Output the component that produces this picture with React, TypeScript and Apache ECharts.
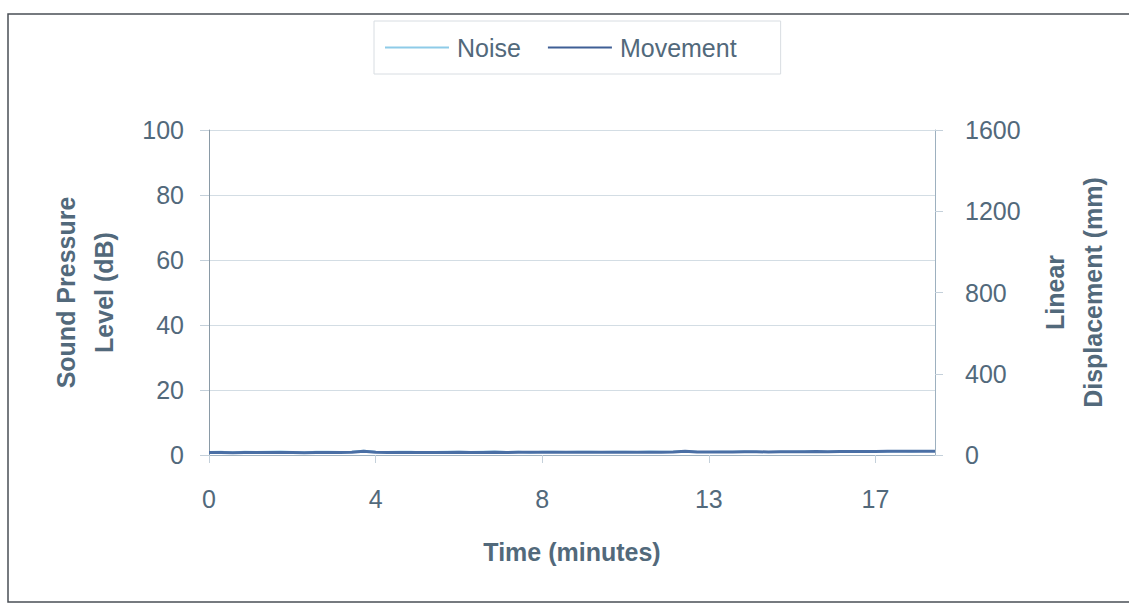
import React, { useEffect, useRef } from "react";
import * as echarts from "echarts";

const seriesNames = ["Noise", "Movement"];
const timeMinutes = [
  0, 0.3, 0.6, 0.9, 1.2, 1.5, 1.8, 2.1, 2.4, 2.7, 3, 3.3, 3.6, 3.9, 4.2, 4.5,
  4.8, 5.1, 5.4, 5.7, 6, 6.3, 6.6, 6.9, 7.2, 7.5, 7.8, 8.1, 8.4, 8.7, 9, 9.3,
  9.6, 9.9, 10.2, 10.5, 10.8, 11.1, 11.4, 11.7, 12, 12.3, 12.6, 12.9, 13.2,
  13.5, 13.8, 14.1, 14.4, 14.7, 15, 15.3, 15.6, 15.9, 16.2, 16.5, 16.8, 17.1,
  17.4, 17.7, 18, 18.3,
];
const noiseDb = [
  0.9, 1.0, 0.8, 1.0, 0.9, 1.0, 1.1, 0.9, 0.8, 1.0, 1.0, 0.9, 1.0, 1.3, 1.0,
  0.9, 1.0, 1.0, 0.8, 0.9, 1.0, 1.0, 0.9, 1.0, 1.1, 0.9, 1.0, 0.8, 1.0, 1.0,
  0.9, 1.0, 1.0, 0.9, 1.0, 1.0, 0.9, 1.1, 1.0, 1.0, 1.2, 1.0, 0.9, 1.0, 1.0,
  1.1, 1.0, 0.9, 1.0, 1.0, 1.1, 1.1, 1.0, 1.1, 1.1, 1.2, 1.1, 1.1, 1.2, 1.1,
  1.2, 1.2,
];
const movementMm = [
  12, 12, 11, 12, 12, 12, 12, 12, 11, 12, 12, 12, 13, 19, 13, 12, 12, 12, 12,
  12, 12, 13, 12, 12, 13, 12, 13, 13, 13, 13, 13, 13, 13, 14, 13, 14, 14, 14,
  14, 15, 18, 15, 15, 15, 15, 16, 16, 15, 16, 16, 16, 17, 16, 17, 17, 17, 17,
  18, 18, 18, 18, 19,
];
const leftTicks = { min: 0, max: 100, interval: 20 };
const rightTicks = { min: 0, max: 1600, interval: 400 };
const timeTicks = { min: 0, max: 18.3, interval: 4.2 };

const FONT = "'Liberation Sans', Arial, sans-serif";
const TEXT = "#52697b";
const AXIS = "#9db0bf";

export default function App() {
  const ref = useRef<HTMLDivElement>(null);
  useEffect(() => {
    if (!ref.current) return;
    const chart = echarts.init(ref.current, null, { renderer: "svg" });
    chart.setOption({
      animation: false,
      backgroundColor: "#ffffff",
      textStyle: { fontFamily: FONT },
      graphic: [
        {
          type: "rect",
          shape: { x: 8, y: 14, width: 1130, height: 588 },
          style: { fill: "none", stroke: "#4a4f55", lineWidth: 1.5 },
          silent: true,
        },
      ],
      legend: {
        data: seriesNames,
        left: 374,
        top: 21,
        padding: [14, 44, 14, 11],
        itemGap: 27,
        itemWidth: 64,
        itemHeight: 2,
        icon: "rect",
        borderColor: "#d8dde2",
        borderWidth: 1,
        textStyle: {
          fontFamily: FONT,
          fontSize: 25,
          color: TEXT,
          padding: [0, 0, 0, 3],
        },
      },
      grid: { left: 209, right: 194, top: 130, bottom: 149, containLabel: false },
      xAxis: {
        type: "value",
        min: timeTicks.min,
        max: timeTicks.max,
        interval: timeTicks.interval,
        name: "Time (minutes)",
        nameLocation: "middle",
        nameGap: 84,
        nameTextStyle: { fontFamily: FONT, fontSize: 25, fontWeight: "bold", color: TEXT },
        axisLine: { show: true, lineStyle: { color: AXIS, width: 1 } },
        axisTick: { show: true, length: 8, lineStyle: { color: "#c4d0da" } },
        axisLabel: {
          margin: 31,
          fontSize: 25,
          color: TEXT,
          fontFamily: FONT,
          showMaxLabel: false,
          formatter: (v: number) => String(Math.round(v)),
        },
        splitLine: { show: false },
      },
      yAxis: [
        {
          type: "value",
          position: "left",
          min: leftTicks.min,
          max: leftTicks.max,
          interval: leftTicks.interval,
          name: "Sound Pressure\nLevel (dB)",
          nameLocation: "middle",
          nameGap: 86,
          nameTextStyle: {
            fontFamily: FONT,
            fontSize: 25,
            fontWeight: "bold",
            color: TEXT,
            lineHeight: 38,
          },
          axisLine: { show: true, lineStyle: { color: "#8a9aa6", width: 1 } },
          axisTick: { show: true, length: 9, lineStyle: { color: "#c4d0da" } },
          axisLabel: {
            margin: 25,
            fontSize: 25,
            color: TEXT,
            fontFamily: FONT,
            formatter: (v: number) => String(v),
          },
          splitLine: { show: true, lineStyle: { color: "#d3dde4", width: 1 } },
        },
        {
          type: "value",
          position: "right",
          min: rightTicks.min,
          max: rightTicks.max,
          interval: rightTicks.interval,
          name: "Linear\nDisplacement (mm)",
          nameLocation: "middle",
          nameGap: 101,
          nameTextStyle: {
            fontFamily: FONT,
            fontSize: 25,
            fontWeight: "bold",
            color: TEXT,
            lineHeight: 38,
          },
          axisLine: { show: true, lineStyle: { color: AXIS, width: 1 } },
          axisTick: { show: true, length: 8, lineStyle: { color: "#c4d0da" } },
          axisLabel: {
            margin: 30,
            fontSize: 25,
            color: TEXT,
            fontFamily: FONT,
            formatter: (v: number) => String(v),
          },
          splitLine: { show: false },
        },
      ],
      series: [
        {
          name: seriesNames[0],
          type: "line",
          yAxisIndex: 0,
          symbol: "none",
          color: "#8ecbe8",
          lineStyle: { width: 2, color: "#8ecbe8" },
          data: timeMinutes.map((t, i) => [t, noiseDb[i]]),
        },
        {
          name: seriesNames[1],
          type: "line",
          yAxisIndex: 1,
          symbol: "none",
          color: "#3f5f95",
          lineStyle: { width: 3, color: "#4a6fa5" },
          data: timeMinutes.map((t, i) => [t, movementMm[i]]),
        },
      ],
    });
    return () => chart.dispose();
  }, []);
  return (
    <div
      ref={ref}
      style={{ position: "fixed", left: 0, top: 0, width: 1129, height: 604 }}
    />
  );
}
